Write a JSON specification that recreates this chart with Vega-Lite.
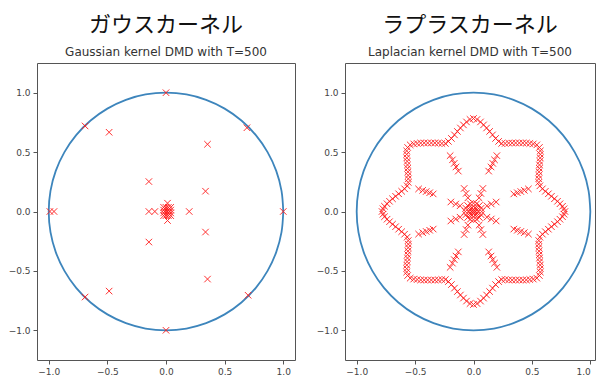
{
  "$schema": "https://vega.github.io/schema/vega-lite/v6.json",
  "background": "white",
  "padding": {"left": 7, "top": 13, "right": 0, "bottom": 2},
  "spacing": 19,
  "config": {
    "view": {"stroke": "#555555", "strokeWidth": 1},
    "axis": {"grid": false, "domain": false, "tickColor": "#555555", "tickSize": 4, "labelFont": "DejaVu Sans", "labelFontSize": 9, "labelColor": "#444444", "labelPadding": 3, "title": null, "format": ".1f"},
    "title": {"font": "Noto Sans CJK JP", "fontSize": 22, "fontWeight": "normal", "color": "#111111", "subtitleFont": "DejaVu Sans", "subtitleFontSize": 12, "subtitleColor": "#333333", "subtitlePadding": 10, "offset": 4, "anchor": "middle"}
  },
  "datasets": {
    "circle": [
      {"i":0,"x":1,"y":0},{"i":1,"x":0.985,"y":0.174},{"i":2,"x":0.94,"y":0.342},{"i":3,"x":0.866,"y":0.5},{"i":4,"x":0.766,"y":0.643},{"i":5,"x":0.643,"y":0.766},{"i":6,"x":0.5,"y":0.866},{"i":7,"x":0.342,"y":0.94},{"i":8,"x":0.174,"y":0.985},{"i":9,"x":0,"y":1},
      {"i":10,"x":-0.174,"y":0.985},{"i":11,"x":-0.342,"y":0.94},{"i":12,"x":-0.5,"y":0.866},{"i":13,"x":-0.643,"y":0.766},{"i":14,"x":-0.766,"y":0.643},{"i":15,"x":-0.866,"y":0.5},{"i":16,"x":-0.94,"y":0.342},{"i":17,"x":-0.985,"y":0.174},{"i":18,"x":-1,"y":0},
      {"i":19,"x":-0.985,"y":-0.174},{"i":20,"x":-0.94,"y":-0.342},{"i":21,"x":-0.866,"y":-0.5},{"i":22,"x":-0.766,"y":-0.643},{"i":23,"x":-0.643,"y":-0.766},{"i":24,"x":-0.5,"y":-0.866},{"i":25,"x":-0.342,"y":-0.94},{"i":26,"x":-0.174,"y":-0.985},{"i":27,"x":0,"y":-1},
      {"i":28,"x":0.174,"y":-0.985},{"i":29,"x":0.342,"y":-0.94},{"i":30,"x":0.5,"y":-0.866},{"i":31,"x":0.643,"y":-0.766},{"i":32,"x":0.766,"y":-0.643},{"i":33,"x":0.866,"y":-0.5},{"i":34,"x":0.94,"y":-0.342},{"i":35,"x":0.985,"y":-0.174},{"i":36,"x":1,"y":0}
    ],
    "gauss": [
      {"x":0,"y":1},{"x":0,"y":-1},{"x":1,"y":0},{"x":-0.99,"y":0},{"x":-0.955,"y":0},
      {"x":-0.69,"y":0.72},{"x":0.69,"y":0.705},{"x":-0.69,"y":-0.72},{"x":0.7,"y":-0.705},
      {"x":-0.485,"y":0.667},{"x":-0.485,"y":-0.67},{"x":0.354,"y":0.566},{"x":0.354,"y":-0.569},
      {"x":0.337,"y":0.171},{"x":0.337,"y":-0.173},{"x":-0.146,"y":0.252},{"x":-0.146,"y":-0.257},
      {"x":-0.146,"y":0},{"x":-0.095,"y":0},{"x":0.198,"y":0},{"x":0.013,"y":0.07},{"x":0.013,"y":-0.076},
      {"x":-0.02,"y":-0.035},{"x":0,"y":-0.035},{"x":0.02,"y":-0.035},{"x":0.04,"y":-0.035},
      {"x":-0.02,"y":-0.012},{"x":0,"y":-0.012},{"x":0.02,"y":-0.012},{"x":0.04,"y":-0.012},
      {"x":-0.02,"y":0.012},{"x":0,"y":0.012},{"x":0.02,"y":0.012},{"x":0.04,"y":0.012},
      {"x":-0.02,"y":0.035},{"x":0,"y":0.035},{"x":0.02,"y":0.035},{"x":0.04,"y":0.035}
    ],
    "laplace": [
      {"x":0,"y":0.783},{"x":-0.03,"y":0.775},{"x":-0.06,"y":0.754},{"x":-0.086,"y":0.729},{"x":-0.112,"y":0.703},{"x":-0.138,"y":0.674},{"x":-0.163,"y":0.645},{"x":-0.189,"y":0.615},{"x":-0.215,"y":0.59},{"x":-0.241,"y":0.573},
      {"x":-0.271,"y":0.573},{"x":-0.301,"y":0.576},{"x":-0.331,"y":0.577},{"x":-0.361,"y":0.577},{"x":-0.392,"y":0.577},{"x":-0.422,"y":0.577},{"x":-0.452,"y":0.576},{"x":-0.482,"y":0.573},{"x":-0.512,"y":0.569},{"x":-0.542,"y":0.561},
      {"x":-0.564,"y":0.539},{"x":-0.572,"y":0.51},
      {"x":-0.572,"y":0.481},{"x":-0.571,"y":0.451},{"x":-0.568,"y":0.422},{"x":-0.565,"y":0.392},{"x":-0.564,"y":0.363},{"x":-0.561,"y":0.334},{"x":-0.559,"y":0.304},{"x":-0.558,"y":0.275},{"x":-0.559,"y":0.245},{"x":-0.568,"y":0.216},
      {"x":-0.59,"y":0.191},{"x":-0.615,"y":0.17},{"x":-0.641,"y":0.149},{"x":-0.667,"y":0.128},{"x":-0.693,"y":0.107},{"x":-0.719,"y":0.086},{"x":-0.74,"y":0.065},{"x":-0.762,"y":0.044},{"x":-0.775,"y":0.023},{"x":-0.783,"y":0},

      {"x":0.03,"y":0.775},{"x":0.06,"y":0.754},{"x":0.086,"y":0.729},{"x":0.112,"y":0.703},{"x":0.138,"y":0.674},{"x":0.163,"y":0.645},{"x":0.189,"y":0.615},{"x":0.215,"y":0.59},{"x":0.241,"y":0.573},
      {"x":0.271,"y":0.573},{"x":0.301,"y":0.576},{"x":0.331,"y":0.577},{"x":0.361,"y":0.577},{"x":0.392,"y":0.577},{"x":0.422,"y":0.577},{"x":0.452,"y":0.576},{"x":0.482,"y":0.573},{"x":0.512,"y":0.569},{"x":0.542,"y":0.561},
      {"x":0.564,"y":0.539},{"x":0.572,"y":0.51},
      {"x":0.572,"y":0.481},{"x":0.571,"y":0.451},{"x":0.568,"y":0.422},{"x":0.565,"y":0.392},{"x":0.564,"y":0.363},{"x":0.561,"y":0.334},{"x":0.559,"y":0.304},{"x":0.558,"y":0.275},{"x":0.559,"y":0.245},{"x":0.568,"y":0.216},
      {"x":0.59,"y":0.191},{"x":0.615,"y":0.17},{"x":0.641,"y":0.149},{"x":0.667,"y":0.128},{"x":0.693,"y":0.107},{"x":0.719,"y":0.086},{"x":0.74,"y":0.065},{"x":0.762,"y":0.044},{"x":0.775,"y":0.023},{"x":0.783,"y":0},

      {"x":0,"y":-0.783},{"x":-0.03,"y":-0.775},{"x":-0.06,"y":-0.754},{"x":-0.086,"y":-0.729},{"x":-0.112,"y":-0.703},{"x":-0.138,"y":-0.674},{"x":-0.163,"y":-0.645},{"x":-0.189,"y":-0.615},{"x":-0.215,"y":-0.59},{"x":-0.241,"y":-0.573},
      {"x":-0.271,"y":-0.573},{"x":-0.301,"y":-0.576},{"x":-0.331,"y":-0.577},{"x":-0.361,"y":-0.577},{"x":-0.392,"y":-0.577},{"x":-0.422,"y":-0.577},{"x":-0.452,"y":-0.576},{"x":-0.482,"y":-0.573},{"x":-0.512,"y":-0.569},{"x":-0.542,"y":-0.561},
      {"x":-0.564,"y":-0.539},{"x":-0.572,"y":-0.51},
      {"x":-0.572,"y":-0.481},{"x":-0.571,"y":-0.451},{"x":-0.568,"y":-0.422},{"x":-0.565,"y":-0.392},{"x":-0.564,"y":-0.363},{"x":-0.561,"y":-0.334},{"x":-0.559,"y":-0.304},{"x":-0.558,"y":-0.275},{"x":-0.559,"y":-0.245},{"x":-0.568,"y":-0.216},
      {"x":-0.59,"y":-0.191},{"x":-0.615,"y":-0.17},{"x":-0.641,"y":-0.149},{"x":-0.667,"y":-0.128},{"x":-0.693,"y":-0.107},{"x":-0.719,"y":-0.086},{"x":-0.74,"y":-0.065},{"x":-0.762,"y":-0.044},{"x":-0.775,"y":-0.023},

      {"x":0.03,"y":-0.775},{"x":0.06,"y":-0.754},{"x":0.086,"y":-0.729},{"x":0.112,"y":-0.703},{"x":0.138,"y":-0.674},{"x":0.163,"y":-0.645},{"x":0.189,"y":-0.615},{"x":0.215,"y":-0.59},{"x":0.241,"y":-0.573},
      {"x":0.271,"y":-0.573},{"x":0.301,"y":-0.576},{"x":0.331,"y":-0.577},{"x":0.361,"y":-0.577},{"x":0.392,"y":-0.577},{"x":0.422,"y":-0.577},{"x":0.452,"y":-0.576},{"x":0.482,"y":-0.573},{"x":0.512,"y":-0.569},{"x":0.542,"y":-0.561},
      {"x":0.564,"y":-0.539},{"x":0.572,"y":-0.51},
      {"x":0.572,"y":-0.481},{"x":0.571,"y":-0.451},{"x":0.568,"y":-0.422},{"x":0.565,"y":-0.392},{"x":0.564,"y":-0.363},{"x":0.561,"y":-0.334},{"x":0.559,"y":-0.304},{"x":0.558,"y":-0.275},{"x":0.559,"y":-0.245},{"x":0.568,"y":-0.216},
      {"x":0.59,"y":-0.191},{"x":0.615,"y":-0.17},{"x":0.641,"y":-0.149},{"x":0.667,"y":-0.128},{"x":0.693,"y":-0.107},{"x":0.719,"y":-0.086},{"x":0.74,"y":-0.065},{"x":0.762,"y":-0.044},{"x":0.775,"y":-0.023},

      {"x":-0.2,"y":0.47},{"x":-0.18,"y":0.435},{"x":-0.165,"y":0.405},{"x":-0.15,"y":0.375},{"x":-0.13,"y":0.34},
      {"x":0.2,"y":0.47},{"x":0.18,"y":0.435},{"x":0.165,"y":0.405},{"x":0.15,"y":0.375},{"x":0.13,"y":0.34},
      {"x":-0.2,"y":-0.47},{"x":-0.18,"y":-0.435},{"x":-0.165,"y":-0.405},{"x":-0.15,"y":-0.375},{"x":-0.13,"y":-0.34},
      {"x":0.2,"y":-0.47},{"x":0.18,"y":-0.435},{"x":0.165,"y":-0.405},{"x":0.15,"y":-0.375},{"x":0.13,"y":-0.34},
      {"x":-0.47,"y":0.19},{"x":-0.435,"y":0.178},{"x":-0.405,"y":0.168},{"x":-0.375,"y":0.158},{"x":-0.345,"y":0.148},
      {"x":0.47,"y":0.19},{"x":0.435,"y":0.178},{"x":0.405,"y":0.168},{"x":0.375,"y":0.158},{"x":0.345,"y":0.148},
      {"x":-0.47,"y":-0.19},{"x":-0.435,"y":-0.178},{"x":-0.405,"y":-0.168},{"x":-0.375,"y":-0.158},{"x":-0.345,"y":-0.148},
      {"x":0.47,"y":-0.19},{"x":0.435,"y":-0.178},{"x":0.405,"y":-0.168},{"x":0.375,"y":-0.158},{"x":0.345,"y":-0.148},

      {"x":0.194,"y":0.08},{"x":0.152,"y":0.063},{"x":0.115,"y":0.048},
      {"x":0.08,"y":0.194},{"x":0.063,"y":0.152},{"x":0.048,"y":0.115},
      {"x":-0.08,"y":0.194},{"x":-0.063,"y":0.152},{"x":-0.048,"y":0.115},
      {"x":-0.194,"y":0.08},{"x":-0.152,"y":0.063},{"x":-0.115,"y":0.048},
      {"x":-0.194,"y":-0.08},{"x":-0.152,"y":-0.063},{"x":-0.115,"y":-0.048},
      {"x":-0.08,"y":-0.194},{"x":-0.063,"y":-0.152},{"x":-0.048,"y":-0.115},
      {"x":0.08,"y":-0.194},{"x":0.063,"y":-0.152},{"x":0.048,"y":-0.115},
      {"x":0.194,"y":-0.08},{"x":0.152,"y":-0.063},{"x":0.115,"y":-0.048},

      {"x":0,"y":0},{"x":0.015,"y":0},{"x":-0.015,"y":0},{"x":0,"y":0.015},{"x":0,"y":-0.015},
      {"x":0.07,"y":0},{"x":0.05,"y":0.05},{"x":0,"y":0.07},{"x":-0.05,"y":0.05},{"x":-0.07,"y":0},{"x":-0.05,"y":-0.05},{"x":0,"y":-0.07},{"x":0.05,"y":-0.05},
      {"x":0.065,"y":0.027},{"x":0.027,"y":0.065},{"x":-0.027,"y":0.065},{"x":-0.065,"y":0.027},{"x":-0.065,"y":-0.027},{"x":-0.027,"y":-0.065},{"x":0.027,"y":-0.065},{"x":0.065,"y":-0.027},
      {"x":0.032,"y":0.013},{"x":0.013,"y":0.032},{"x":-0.013,"y":0.032},{"x":-0.032,"y":0.013},{"x":-0.032,"y":-0.013},{"x":-0.013,"y":-0.032},{"x":0.013,"y":-0.032},{"x":0.032,"y":-0.013}
    ]
  },
  "hconcat": [
    {
      "width": 258,
      "height": 297,
      "title": {"text": "ガウスカーネル", "subtitle": "Gaussian kernel DMD with T=500"},
      "layer": [
        {
          "data": {"name": "circle"},
          "mark": {"type": "line", "color": "#3d85bc", "strokeWidth": 1.8, "interpolate": "cardinal"},
          "encoding": {
            "x": {"field": "x", "type": "quantitative", "scale": {"domain": [-1.1, 1.1], "nice": false, "zero": false}, "axis": {"values": [-1, -0.5, 0, 0.5, 1]}},
            "y": {"field": "y", "type": "quantitative", "scale": {"domain": [-1.25, 1.25], "nice": false, "zero": false}, "axis": {"values": [-1, -0.5, 0, 0.5, 1]}},
            "order": {"field": "i", "type": "quantitative"}
          }
        },
        {
          "data": {"name": "gauss"},
          "mark": {"type": "point", "shape": "M-1,-1L1,1M-1,1L1,-1", "filled": false, "color": "#ff1a1a", "size": 42, "strokeWidth": 1, "opacity": 0.9},
          "encoding": {
            "x": {"field": "x", "type": "quantitative"},
            "y": {"field": "y", "type": "quantitative"}
          }
        }
      ]
    },
    {
      "width": 250,
      "height": 297,
      "title": {"text": "ラプラスカーネル", "subtitle": "Laplacian kernel DMD with T=500"},
      "layer": [
        {
          "data": {"name": "circle"},
          "mark": {"type": "line", "color": "#3d85bc", "strokeWidth": 1.8, "interpolate": "cardinal"},
          "encoding": {
            "x": {"field": "x", "type": "quantitative", "scale": {"domain": [-1.1, 1.04], "nice": false, "zero": false}, "axis": {"values": [-1, -0.5, 0, 0.5, 1], "labelFlush": 8}},
            "y": {"field": "y", "type": "quantitative", "scale": {"domain": [-1.25, 1.25], "nice": false, "zero": false}, "axis": {"values": [-1, -0.5, 0, 0.5, 1]}},
            "order": {"field": "i", "type": "quantitative"}
          }
        },
        {
          "data": {"name": "laplace"},
          "mark": {"type": "point", "shape": "M-1,-1L1,1M-1,1L1,-1", "filled": false, "color": "#ff1a1a", "size": 42, "strokeWidth": 1, "opacity": 0.9},
          "encoding": {
            "x": {"field": "x", "type": "quantitative"},
            "y": {"field": "y", "type": "quantitative"}
          }
        }
      ]
    }
  ]
}
